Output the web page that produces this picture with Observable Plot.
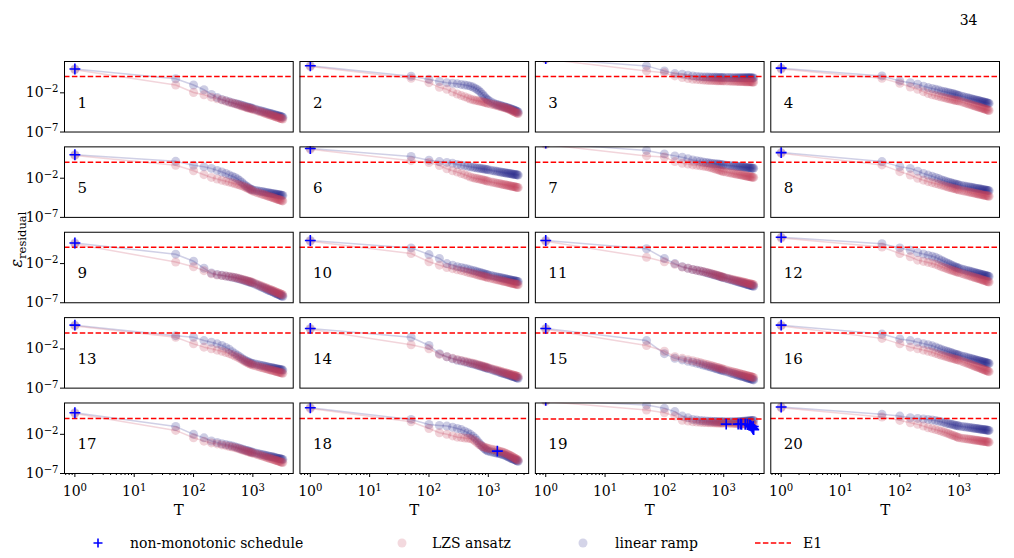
<!DOCTYPE html>
<html><head><meta charset="utf-8">
<script src="https://cdn.jsdelivr.net/npm/d3@7"></script>
<script src="https://cdn.jsdelivr.net/npm/@observablehq/plot@0.6"></script>
<style>
body{margin:0;background:#fff;}
#wrap{width:1014px;font-family:"DejaVu Serif",serif;}
#legend svg{display:block;}
</style></head>
<body><div id="wrap"><div id="chart"></div><div id="legend"></div></div>
<script>
// Annealing times T
const T = [1,50,100,150,200,250,300,350,400,450,500,550,600,650,700,750,800,850,900,950,1000,
  1100,1200,1300,1400,1500,1600,1700,1800,1900,2000,2100,2200,2300,2400,2500,2600,2700,2800,2900,3000,3100,3200];
// log10 of residual energy, one row per panel (1..20)
const linearRamp = [
[1.04,-0.2,-1.0,-1.6,-2.2,-2.6,-2.85,-3.0,-3.15,-3.25,-3.35,-3.43,-3.5,-3.58,-3.65,-3.73,-3.8,-3.85,-3.9,-3.95,-4.0,-4.09,-4.18,-4.25,-4.32,-4.38,-4.44,-4.5,-4.56,-4.6,-4.65,-4.7,-4.74,-4.79,-4.83,-4.87,-4.9,-4.94,-4.97,-5.0,-5.03,-5.07,-5.1],
[1.46,0.12,-0.28,-0.55,-0.7,-0.78,-0.85,-0.92,-1.0,-1.06,-1.15,-1.27,-1.4,-1.57,-1.75,-1.97,-2.2,-2.43,-2.65,-2.82,-2.95,-3.15,-3.3,-3.41,-3.5,-3.56,-3.62,-3.69,-3.75,-3.8,-3.85,-3.9,-3.95,-4.0,-4.05,-4.1,-4.15,-4.2,-4.25,-4.3,-4.35,-4.4,-4.45],
[2.37,1.44,0.8,0.46,0.38,0.26,0.16,0.1,0.06,0.03,0.02,0.01,0.0,-0.01,-0.02,-0.02,-0.03,-0.03,-0.04,-0.04,-0.05,-0.05,-0.05,-0.05,-0.06,-0.06,-0.06,-0.06,-0.07,-0.07,-0.07,-0.07,-0.07,-0.07,-0.08,-0.08,-0.08,-0.08,-0.08,-0.08,-0.09,-0.09,-0.09],
[1.15,0.16,-0.48,-0.7,-0.9,-1.15,-1.33,-1.45,-1.55,-1.65,-1.76,-1.83,-1.9,-1.96,-2.02,-2.08,-2.13,-2.19,-2.25,-2.3,-2.35,-2.43,-2.51,-2.58,-2.64,-2.7,-2.75,-2.81,-2.86,-2.9,-2.94,-2.98,-3.02,-3.06,-3.1,-3.14,-3.17,-3.2,-3.23,-3.26,-3.29,-3.32,-3.35],
[1.0,0.15,-0.35,-0.55,-0.75,-1.0,-1.2,-1.4,-1.6,-1.75,-1.9,-2.1,-2.3,-2.52,-2.75,-2.93,-3.1,-3.23,-3.35,-3.43,-3.5,-3.56,-3.61,-3.66,-3.7,-3.74,-3.78,-3.82,-3.86,-3.89,-3.91,-3.94,-3.97,-4.0,-4.03,-4.05,-4.07,-4.1,-4.12,-4.14,-4.16,-4.18,-4.2],
[1.8,0.78,0.3,0.12,0.02,-0.1,-0.25,-0.33,-0.4,-0.48,-0.55,-0.6,-0.65,-0.69,-0.73,-0.77,-0.8,-0.84,-0.87,-0.9,-0.93,-0.99,-1.04,-1.08,-1.12,-1.16,-1.2,-1.24,-1.27,-1.3,-1.33,-1.36,-1.38,-1.41,-1.43,-1.46,-1.48,-1.5,-1.52,-1.54,-1.56,-1.58,-1.6],
[2.5,1.53,1.1,0.85,0.67,0.48,0.33,0.24,0.15,0.07,0.0,-0.04,-0.08,-0.12,-0.15,-0.18,-0.2,-0.23,-0.26,-0.28,-0.3,-0.34,-0.37,-0.4,-0.42,-0.45,-0.47,-0.5,-0.52,-0.54,-0.55,-0.57,-0.59,-0.61,-0.62,-0.64,-0.65,-0.67,-0.68,-0.69,-0.7,-0.72,-0.73],
[1.27,0.12,-0.52,-0.75,-1.1,-1.4,-1.6,-1.75,-1.9,-2.05,-2.2,-2.3,-2.4,-2.48,-2.55,-2.62,-2.68,-2.73,-2.78,-2.83,-2.87,-2.93,-2.99,-3.04,-3.08,-3.12,-3.16,-3.2,-3.24,-3.27,-3.3,-3.33,-3.36,-3.39,-3.42,-3.45,-3.47,-3.49,-3.51,-3.54,-3.56,-3.58,-3.6],
[0.63,-0.8,-1.7,-2.6,-3.2,-3.4,-3.5,-3.6,-3.68,-3.75,-3.82,-3.9,-3.97,-4.05,-4.12,-4.19,-4.25,-4.32,-4.38,-4.44,-4.5,-4.64,-4.77,-4.88,-4.99,-5.09,-5.18,-5.28,-5.37,-5.44,-5.5,-5.57,-5.64,-5.71,-5.78,-5.84,-5.89,-5.95,-6.0,-6.05,-6.1,-6.15,-6.2],
[0.95,0.0,-0.85,-1.35,-2.0,-2.2,-2.4,-2.5,-2.6,-2.7,-2.8,-2.88,-2.95,-3.03,-3.1,-3.16,-3.22,-3.29,-3.35,-3.4,-3.45,-3.52,-3.59,-3.65,-3.7,-3.75,-3.79,-3.84,-3.88,-3.92,-3.95,-3.99,-4.02,-4.06,-4.09,-4.12,-4.15,-4.18,-4.2,-4.23,-4.25,-4.28,-4.3],
[0.95,-0.1,-1.35,-2.0,-2.4,-2.6,-2.75,-2.85,-2.95,-3.05,-3.15,-3.23,-3.3,-3.38,-3.45,-3.51,-3.57,-3.64,-3.7,-3.75,-3.8,-3.89,-3.98,-4.05,-4.12,-4.18,-4.24,-4.3,-4.36,-4.41,-4.45,-4.5,-4.54,-4.59,-4.63,-4.67,-4.7,-4.74,-4.77,-4.8,-4.83,-4.87,-4.9],
[1.37,0.54,0.0,-0.3,-0.6,-0.78,-0.93,-1.07,-1.2,-1.38,-1.56,-1.71,-1.85,-1.98,-2.1,-2.2,-2.3,-2.39,-2.47,-2.54,-2.6,-2.69,-2.77,-2.84,-2.9,-2.96,-3.02,-3.08,-3.14,-3.18,-3.22,-3.26,-3.3,-3.35,-3.39,-3.43,-3.46,-3.49,-3.52,-3.56,-3.59,-3.62,-3.65],
[1.04,-0.3,-0.5,-0.93,-1.14,-1.35,-1.56,-1.8,-2.05,-2.35,-2.6,-2.8,-3.0,-3.18,-3.35,-3.48,-3.6,-3.68,-3.75,-3.81,-3.86,-3.93,-4.0,-4.05,-4.1,-4.15,-4.2,-4.25,-4.29,-4.33,-4.36,-4.39,-4.42,-4.46,-4.49,-4.52,-4.55,-4.58,-4.6,-4.63,-4.65,-4.68,-4.7],
[0.62,-0.5,-1.56,-2.6,-3.0,-3.25,-3.44,-3.55,-3.65,-3.75,-3.86,-3.93,-4.0,-4.08,-4.15,-4.21,-4.27,-4.34,-4.4,-4.45,-4.5,-4.6,-4.7,-4.78,-4.86,-4.93,-5.0,-5.07,-5.13,-5.18,-5.23,-5.28,-5.33,-5.38,-5.43,-5.48,-5.52,-5.56,-5.59,-5.63,-5.67,-5.71,-5.74],
[0.62,-0.93,-2.6,-3.2,-3.4,-3.57,-3.7,-3.82,-3.93,-4.05,-4.15,-4.23,-4.3,-4.38,-4.45,-4.52,-4.58,-4.64,-4.7,-4.75,-4.8,-4.89,-4.98,-5.06,-5.13,-5.2,-5.26,-5.33,-5.39,-5.44,-5.48,-5.53,-5.57,-5.62,-5.66,-5.7,-5.74,-5.78,-5.81,-5.85,-5.88,-5.92,-5.95],
[1.04,-0.1,-0.72,-0.93,-1.14,-1.32,-1.47,-1.6,-1.75,-1.9,-2.05,-2.15,-2.25,-2.34,-2.42,-2.5,-2.57,-2.64,-2.7,-2.75,-2.8,-2.89,-2.97,-3.04,-3.11,-3.17,-3.22,-3.28,-3.34,-3.39,-3.43,-3.47,-3.51,-3.56,-3.6,-3.64,-3.67,-3.7,-3.73,-3.77,-3.8,-3.83,-3.86],
[0.76,-1.0,-2.0,-2.45,-2.85,-3.05,-3.2,-3.3,-3.4,-3.5,-3.6,-3.69,-3.78,-3.87,-3.95,-4.02,-4.08,-4.14,-4.2,-4.25,-4.3,-4.37,-4.44,-4.5,-4.56,-4.61,-4.66,-4.71,-4.76,-4.8,-4.83,-4.87,-4.9,-4.94,-4.98,-5.01,-5.04,-5.07,-5.09,-5.12,-5.15,-5.18,-5.2],
[1.4,-0.1,-0.74,-0.86,-0.95,-1.1,-1.25,-1.4,-1.6,-1.8,-2.0,-2.25,-2.5,-2.8,-3.1,-3.35,-3.6,-3.8,-3.95,-4.06,-4.15,-4.23,-4.3,-4.35,-4.4,-4.45,-4.5,-4.55,-4.6,-4.68,-4.75,-4.83,-4.9,-4.98,-5.05,-5.1,-5.15,-5.2,-5.25,-5.3,-5.35,-5.4,-5.44],
[2.35,1.74,1.32,0.9,0.33,0.1,-0.1,-0.18,-0.24,-0.28,-0.3,-0.32,-0.33,-0.35,-0.36,-0.37,-0.38,-0.38,-0.39,-0.39,-0.4,-0.4,-0.4,-0.4,-0.39,-0.39,-0.38,-0.38,-0.37,-0.36,-0.35,-0.34,-0.33,-0.32,-0.31,-0.3,-0.29,-0.28,-0.27,-0.26,-0.25,-0.24,-0.22],
[1.49,0.55,0.33,0.12,0.03,-0.04,-0.1,-0.17,-0.25,-0.32,-0.4,-0.48,-0.55,-0.62,-0.68,-0.73,-0.78,-0.83,-0.87,-0.91,-0.95,-1.0,-1.04,-1.08,-1.11,-1.14,-1.17,-1.2,-1.23,-1.25,-1.27,-1.3,-1.32,-1.34,-1.36,-1.38,-1.4,-1.42,-1.43,-1.45,-1.47,-1.49,-1.5]
];
const lzsAnsatz = [
[0.95,-1.0,-1.95,-2.25,-2.55,-2.75,-2.9,-3.05,-3.2,-3.3,-3.4,-3.5,-3.6,-3.68,-3.75,-3.83,-3.9,-3.95,-4.0,-4.05,-4.1,-4.2,-4.3,-4.38,-4.46,-4.53,-4.6,-4.67,-4.74,-4.79,-4.84,-4.89,-4.94,-4.99,-5.04,-5.09,-5.13,-5.17,-5.2,-5.24,-5.28,-5.32,-5.35],
[1.35,-0.15,-0.7,-1.3,-1.55,-1.9,-2.15,-2.35,-2.5,-2.65,-2.8,-2.88,-2.95,-3.0,-3.05,-3.1,-3.15,-3.2,-3.25,-3.3,-3.35,-3.43,-3.5,-3.56,-3.62,-3.69,-3.75,-3.8,-3.85,-3.9,-3.95,-4.01,-4.07,-4.14,-4.2,-4.27,-4.33,-4.39,-4.45,-4.5,-4.55,-4.6,-4.65],
[2.3,0.8,0.55,0.16,-0.05,-0.17,-0.26,-0.3,-0.34,-0.37,-0.4,-0.41,-0.42,-0.43,-0.44,-0.45,-0.46,-0.46,-0.47,-0.47,-0.48,-0.49,-0.5,-0.51,-0.52,-0.52,-0.53,-0.54,-0.55,-0.55,-0.56,-0.56,-0.57,-0.57,-0.58,-0.58,-0.59,-0.59,-0.6,-0.6,-0.61,-0.61,-0.62],
[1.05,-0.14,-0.78,-1.25,-1.55,-1.85,-2.1,-2.25,-2.35,-2.45,-2.53,-2.6,-2.68,-2.74,-2.8,-2.85,-2.9,-2.94,-2.98,-3.02,-3.05,-3.15,-3.24,-3.32,-3.4,-3.47,-3.53,-3.6,-3.66,-3.71,-3.76,-3.81,-3.85,-3.9,-3.95,-3.99,-4.03,-4.07,-4.11,-4.15,-4.18,-4.22,-4.25],
[0.9,-0.35,-1.05,-1.55,-1.9,-2.1,-2.27,-2.4,-2.5,-2.6,-2.7,-2.79,-2.88,-2.96,-3.05,-3.15,-3.25,-3.35,-3.45,-3.55,-3.65,-3.75,-3.85,-3.93,-4.01,-4.08,-4.15,-4.22,-4.29,-4.34,-4.39,-4.44,-4.49,-4.54,-4.59,-4.64,-4.68,-4.72,-4.75,-4.79,-4.83,-4.87,-4.9],
[1.7,0.24,0.0,-0.38,-0.8,-1.05,-1.22,-1.4,-1.55,-1.7,-1.85,-1.93,-2.0,-2.05,-2.1,-2.15,-2.2,-2.25,-2.3,-2.35,-2.4,-2.47,-2.53,-2.58,-2.63,-2.68,-2.72,-2.77,-2.81,-2.84,-2.87,-2.91,-2.94,-2.97,-3.0,-3.03,-3.06,-3.08,-3.1,-3.13,-3.15,-3.18,-3.2],
[2.3,0.85,0.7,0.12,-0.1,-0.2,-0.3,-0.36,-0.41,-0.46,-0.5,-0.57,-0.65,-0.72,-0.8,-0.87,-0.93,-0.99,-1.05,-1.11,-1.16,-1.22,-1.28,-1.33,-1.37,-1.42,-1.46,-1.5,-1.54,-1.57,-1.6,-1.63,-1.66,-1.69,-1.72,-1.75,-1.77,-1.79,-1.81,-1.84,-1.86,-1.88,-1.9],
[1.17,-0.3,-1.16,-1.6,-2.0,-2.25,-2.44,-2.57,-2.68,-2.78,-2.87,-2.96,-3.05,-3.13,-3.2,-3.25,-3.3,-3.35,-3.4,-3.45,-3.5,-3.57,-3.63,-3.68,-3.73,-3.78,-3.82,-3.87,-3.91,-3.94,-3.97,-4.01,-4.04,-4.07,-4.1,-4.13,-4.16,-4.18,-4.2,-4.23,-4.25,-4.28,-4.3],
[0.5,-1.8,-2.4,-2.9,-3.3,-3.45,-3.52,-3.6,-3.66,-3.72,-3.78,-3.85,-3.92,-3.99,-4.06,-4.12,-4.18,-4.24,-4.3,-4.35,-4.4,-4.53,-4.66,-4.76,-4.86,-4.95,-5.04,-5.13,-5.22,-5.28,-5.34,-5.41,-5.47,-5.54,-5.6,-5.66,-5.71,-5.76,-5.81,-5.86,-5.9,-5.95,-6.0],
[0.85,-0.72,-1.77,-2.2,-2.5,-2.65,-2.8,-2.9,-3.0,-3.1,-3.2,-3.28,-3.35,-3.43,-3.5,-3.55,-3.6,-3.65,-3.7,-3.75,-3.8,-3.87,-3.94,-4.0,-4.06,-4.11,-4.16,-4.21,-4.26,-4.3,-4.33,-4.37,-4.4,-4.44,-4.48,-4.51,-4.54,-4.57,-4.59,-4.62,-4.65,-4.68,-4.7],
[0.85,-1.2,-1.77,-2.1,-2.45,-2.6,-2.75,-2.85,-2.95,-3.02,-3.1,-3.18,-3.25,-3.33,-3.4,-3.46,-3.52,-3.59,-3.65,-3.7,-3.75,-3.83,-3.9,-3.97,-4.03,-4.08,-4.13,-4.18,-4.23,-4.27,-4.31,-4.35,-4.39,-4.43,-4.46,-4.5,-4.53,-4.56,-4.59,-4.62,-4.64,-4.67,-4.7],
[1.27,0.12,-0.72,-1.14,-1.56,-1.72,-1.85,-1.98,-2.1,-2.25,-2.4,-2.5,-2.6,-2.69,-2.78,-2.85,-2.92,-2.99,-3.05,-3.1,-3.15,-3.25,-3.34,-3.42,-3.5,-3.57,-3.63,-3.7,-3.76,-3.81,-3.86,-3.9,-3.95,-4.0,-4.05,-4.09,-4.13,-4.17,-4.21,-4.25,-4.28,-4.32,-4.35],
[0.94,-0.5,-1.35,-1.77,-1.97,-2.15,-2.3,-2.45,-2.6,-2.75,-2.9,-3.05,-3.2,-3.35,-3.5,-3.63,-3.75,-3.84,-3.92,-4.0,-4.07,-4.15,-4.23,-4.3,-4.37,-4.43,-4.48,-4.54,-4.6,-4.64,-4.68,-4.72,-4.76,-4.8,-4.84,-4.88,-4.91,-4.94,-4.98,-5.01,-5.04,-5.07,-5.1],
[0.52,-1.47,-1.97,-2.7,-3.0,-3.2,-3.35,-3.47,-3.57,-3.66,-3.75,-3.83,-3.9,-3.98,-4.05,-4.11,-4.17,-4.24,-4.3,-4.35,-4.4,-4.49,-4.58,-4.66,-4.73,-4.79,-4.85,-4.92,-4.98,-5.03,-5.07,-5.11,-5.16,-5.21,-5.25,-5.29,-5.33,-5.36,-5.39,-5.43,-5.46,-5.5,-5.53],
[0.52,-1.56,-2.3,-3.0,-3.2,-3.37,-3.5,-3.62,-3.73,-3.85,-3.95,-4.03,-4.1,-4.18,-4.25,-4.32,-4.38,-4.44,-4.5,-4.55,-4.6,-4.69,-4.77,-4.84,-4.9,-4.96,-5.02,-5.08,-5.14,-5.18,-5.22,-5.26,-5.3,-5.35,-5.39,-5.43,-5.46,-5.49,-5.52,-5.56,-5.59,-5.62,-5.65],
[0.94,-0.65,-1.35,-1.77,-1.97,-2.15,-2.3,-2.43,-2.57,-2.7,-2.8,-2.89,-2.98,-3.05,-3.12,-3.18,-3.24,-3.3,-3.35,-3.4,-3.44,-3.56,-3.67,-3.77,-3.86,-3.94,-4.02,-4.1,-4.18,-4.24,-4.3,-4.36,-4.42,-4.48,-4.54,-4.59,-4.64,-4.68,-4.72,-4.77,-4.81,-4.86,-4.9],
[0.66,-1.5,-2.44,-2.87,-3.1,-3.22,-3.35,-3.45,-3.55,-3.62,-3.7,-3.79,-3.88,-3.97,-4.05,-4.12,-4.18,-4.24,-4.3,-4.35,-4.4,-4.5,-4.59,-4.67,-4.75,-4.82,-4.88,-4.95,-5.01,-5.06,-5.11,-5.16,-5.2,-5.25,-5.3,-5.34,-5.38,-5.42,-5.46,-5.5,-5.53,-5.57,-5.6],
[1.3,-0.4,-1.25,-1.8,-2.0,-2.2,-2.36,-2.42,-2.47,-2.5,-2.53,-2.68,-2.85,-3.08,-3.3,-3.44,-3.55,-3.63,-3.7,-3.75,-3.8,-3.88,-3.95,-4.0,-4.05,-4.12,-4.18,-4.24,-4.3,-4.38,-4.45,-4.53,-4.6,-4.68,-4.75,-4.83,-4.9,-4.98,-5.05,-5.12,-5.18,-5.24,-5.3],
[2.2,1.1,0.76,0.33,-0.2,-0.3,-0.4,-0.44,-0.47,-0.49,-0.5,-0.51,-0.52,-0.53,-0.54,-0.54,-0.55,-0.55,-0.55,-0.56,-0.56,-0.57,-0.58,-0.59,-0.6,-0.61,-0.62,-0.63,-0.64,-0.64,-0.65,-0.66,-0.67,-0.68,-0.69,-0.69,-0.7,-0.71,-0.72,-0.72,-0.73,-0.74,-0.75],
[1.39,0.2,-0.22,-0.52,-0.73,-0.95,-1.16,-1.28,-1.4,-1.5,-1.6,-1.7,-1.8,-1.9,-2.0,-2.08,-2.15,-2.23,-2.3,-2.37,-2.44,-2.49,-2.53,-2.57,-2.6,-2.63,-2.66,-2.7,-2.73,-2.75,-2.77,-2.8,-2.82,-2.84,-2.86,-2.88,-2.9,-2.92,-2.93,-2.95,-2.97,-2.99,-3.0]
];
// non-monotonic schedule points
const nmPanel = [1,2,3,4,5,6,7,8,9,10,11,12,13,14,15,16,17,18,19,20,18,19,19,19,19,19,19,19,19,19,19,19,19,19];
const nmT =     [1,1,1,1,1,1,1,1,1,1,1,1,1,1,1,1,1,1,1,1,1420,1100,1750,1900,2000,2300,2500,2700,2800,2900,3000,3100,3150,3200];
const nmLog =   [1.04,1.46,2.37,1.15,1.0,1.8,2.5,1.27,0.63,0.95,0.95,1.37,1.04,0.62,0.62,1.04,0.76,1.4,2.35,1.49,-4.15,-0.7,-0.7,-0.68,-0.72,-0.72,-0.75,-0.8,-0.85,-0.95,-1.1,-1.3,-1.0,-1.4];
// E1 level per panel (log10)
const e1Log = [0.08,0.08,0.08,0.08,0.03,0.03,0.03,0.03,0.08,0.08,0.08,0.08,0.04,0.04,0.04,0.04,0.03,0.03,-0.03,0.03];
const xMajor = [1,10,100,1000];
const xMinor = [0.7,0.8,0.9,2,3,4,5,6,7,8,9,20,30,40,50,60,70,80,90,200,300,400,500,600,700,800,900,2000,3000,4000];
const yMajor = [1e-7,1e-2];

const LIN = "rgb(40,40,140)", LZS = "rgb(196,64,92)";
const colOf = p => (p - 1) % 4, rowOf = p => Math.floor((p - 1) / 4);
const panels = d3.range(1, 21);
const linRows = [], lzsRows = [];
panels.forEach((p, k) => {
  T.forEach((t, i) => {
    linRows.push({panel: p, col: colOf(p), row: rowOf(p), T: t, v: 10 ** linearRamp[k][i]});
    lzsRows.push({panel: p, col: colOf(p), row: rowOf(p), T: t, v: 10 ** lzsAnsatz[k][i]});
  });
});
const nmRows = nmPanel.map((p, i) => ({col: colOf(p), row: rowOf(p), T: nmT[i], v: 10 ** nmLog[i]}));
const e1Rows = panels.map((p, k) => ({col: colOf(p), row: rowOf(p), v: 10 ** e1Log[k]}));
const supFmt = d => "10^" + String(Math.round(Math.log10(d))).replace("-", "\u2212");

const svg = Plot.plot({
  width: 1014, height: 525,
  marginLeft: 64, marginRight: 15, marginTop: 61, marginBottom: 52,
  style: {fontFamily: '"DejaVu Serif", serif', fontSize: "14px", color: "black", background: "white", overflow: "visible"},
  fx: {axis: null, domain: [0,1,2,3], paddingInner: 0.0285, paddingOuter: 0, round: false},
  fy: {axis: null, domain: [0,1,2,3,4], paddingInner: 0.174, paddingOuter: 0, round: false},
  x: {type: "log", domain: [10 ** -0.175, 10 ** 3.68]},
  y: {type: "log", domain: [1e-7, 1e2]},
  marks: [
    Plot.line(linRows, {x: "T", y: "v", z: "panel", fx: "col", fy: "row", stroke: LIN, strokeOpacity: 0.22, strokeWidth: 1.5, clip: true}),
    Plot.line(lzsRows, {x: "T", y: "v", z: "panel", fx: "col", fy: "row", stroke: LZS, strokeOpacity: 0.22, strokeWidth: 1.5, clip: true}),
    Plot.dot(linRows, {x: "T", y: "v", fx: "col", fy: "row", r: 4.5, fill: LIN, fillOpacity: 0.23, stroke: "none", clip: true}),
    Plot.dot(lzsRows, {x: "T", y: "v", fx: "col", fy: "row", r: 4.5, fill: LZS, fillOpacity: 0.23, stroke: "none", clip: true}),
    Plot.ruleY(e1Rows, {y: "v", fx: "col", fy: "row", stroke: "#ff0000", strokeWidth: 1.5, strokeDasharray: "5.5,2.4", clip: true}),
    Plot.dot(nmRows, {x: "T", y: "v", fx: "col", fy: "row", symbol: "plus", r: 3.6, stroke: "#0000ff", strokeWidth: 1.6, clip: true}),
    Plot.frame({stroke: "black", strokeWidth: 1}),
    Plot.axisX({ticks: xMajor, tickFormat: supFmt, tickSize: 4, tickPadding: 9, label: null, anchor: "bottom", fontSize: 14}),
    Plot.axisX({ticks: xMinor, tickFormat: () => "", tickSize: 2, label: null, anchor: "bottom"}),
    Plot.axisY({ticks: yMajor, tickFormat: supFmt, tickSize: 4, tickPadding: 2, label: null, anchor: "left", fontSize: 14}),
    Plot.text(panels, {fx: colOf, fy: rowOf, text: p => String(p), frameAnchor: "left", dx: 13, dy: 6, textAnchor: "start", fontSize: 15}),
    Plot.text([0,1,2,3], {fx: d => d, fy: () => 4, text: () => "T", frameAnchor: "bottom", dy: 41, fontSize: 15}),
    Plot.text([0], {fx: () => 0, fy: () => 2, text: () => "ε_residual", frameAnchor: "left", dx: -48, rotate: -90, fontSize: 16}),
    Plot.text([0], {fx: () => 3, fy: () => 0, text: () => "34", frameAnchor: "top-right", dx: -22, dy: -46, fontSize: 14})
  ]
});

// exponents as superscripts, subscript on the y label
d3.select(svg).selectAll("text").each(function() {
  const s = this.textContent;
  const m = /^10\^(.+)$/.exec(s);
  const sel = d3.select(this);
  if (m) {
    sel.text(null);
    sel.append("tspan").text("10");
    sel.append("tspan").attr("dy", "-0.5em").attr("font-size", "0.72em").text(m[1]);
  } else if (s === "ε_residual") {
    sel.text(null);
    sel.append("tspan").attr("font-style", "italic").text("ε");
    sel.append("tspan").attr("dy", "0.35em").attr("font-size", "0.72em").text("residual");
  }
});
document.getElementById("chart").appendChild(svg);

// legend below the chart
const lg = d3.select("#legend").append("svg").attr("width", 1014).attr("height", 33)
  .style("font-family", '"DejaVu Serif", serif').style("font-size", "14px");
const cy = 18;
lg.append("path").attr("d", `M${98-4.5},${cy}h9M98,${cy-4.5}v9`).attr("stroke", "#0000ff").attr("stroke-width", 1.6);
lg.append("text").attr("x", 130).attr("y", cy).attr("dy", "0.35em").text("non-monotonic schedule");
lg.append("circle").attr("cx", 402).attr("cy", cy).attr("r", 4.5).attr("fill", LZS).attr("fill-opacity", 0.2);
lg.append("text").attr("x", 432).attr("y", cy).attr("dy", "0.35em").text("LZS ansatz");
lg.append("circle").attr("cx", 583).attr("cy", cy).attr("r", 4.5).attr("fill", LIN).attr("fill-opacity", 0.2);
lg.append("text").attr("x", 615).attr("y", cy).attr("dy", "0.35em").text("linear ramp");
lg.append("line").attr("x1", 755).attr("x2", 791).attr("y1", cy).attr("y2", cy).attr("stroke", "#ff0000").attr("stroke-width", 1.5).attr("stroke-dasharray", "5.5,2.4");
lg.append("text").attr("x", 803).attr("y", cy).attr("dy", "0.35em").text("E1");
</script>
</body></html>
